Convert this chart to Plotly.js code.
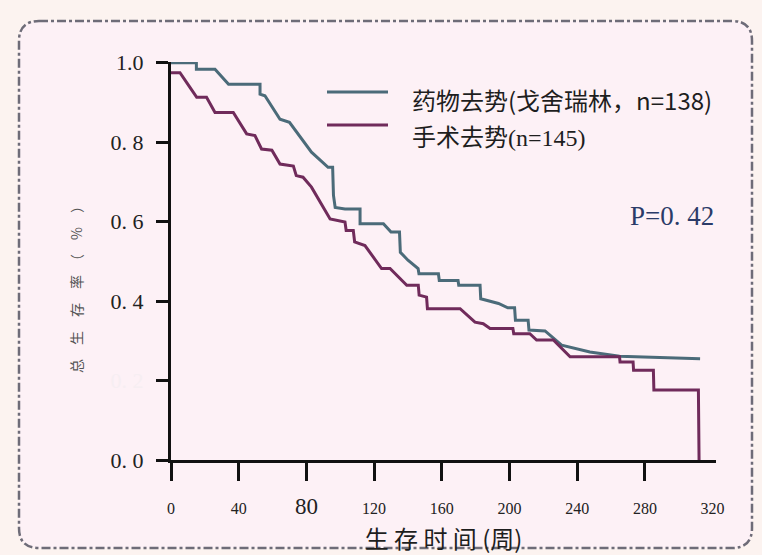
<!DOCTYPE html>
<html>
<head>
<meta charset="utf-8">
<script src="https://cdn.plot.ly/plotly-3.0.1.min.js"></script>
<style>
html,body{margin:0;padding:0;background:#fcf3f0;}
#chart{width:762px;height:555px;}
</style>
</head>
<body>
<div id="chart"></div>
<script>
// ---- data ----
const seriesNames = ['药物去势(戈舍瑞林，n=138)', '手术去势<span style="font-family:Liberation Serif">(n=145)</span>'];

const drugWeeks = [0, 15, 15, 26, 34, 52.6, 52.6, 55.5, 64.4, 70, 83, 92.8, 95.5, 96, 97, 102.8, 111.7, 111.7, 125.5, 130, 135, 135.5, 140, 146, 146.5, 158, 158.5, 169.6, 170, 182.6, 183, 193.5, 199, 203, 203.5, 211, 211.5, 221, 230.8, 247.5, 265, 312.6];
const drugSurv  = [1.0, 1.0, 0.984, 0.984, 0.946, 0.946, 0.921, 0.917, 0.858, 0.85, 0.775, 0.737, 0.737, 0.666, 0.636, 0.632, 0.632, 0.595, 0.595, 0.574, 0.574, 0.523, 0.503, 0.482, 0.469, 0.469, 0.452, 0.452, 0.44, 0.44, 0.406, 0.394, 0.383, 0.383, 0.352, 0.352, 0.327, 0.325, 0.289, 0.272, 0.261, 0.255];

const surgWeeks = [0, 5.3, 11.2, 15.2, 21, 26, 36.8, 44.7, 49.6, 53.5, 59.6, 64.4, 72.3, 74, 78, 83, 94, 102.8, 103.5, 107.7, 108.5, 114.6, 124.4, 129.4, 139.3, 146.1, 146.6, 151, 151.5, 170.8, 179.6, 184.5, 188.5, 202, 202.5, 212, 216, 225.9, 235.8, 265, 265.3, 273, 273.3, 285, 285.3, 311.6, 312];
const surgSurv  = [0.975, 0.975, 0.938, 0.913, 0.913, 0.875, 0.875, 0.821, 0.817, 0.783, 0.78, 0.745, 0.74, 0.716, 0.712, 0.687, 0.607, 0.599, 0.578, 0.578, 0.549, 0.54, 0.482, 0.482, 0.44, 0.44, 0.415, 0.41, 0.381, 0.381, 0.347, 0.343, 0.331, 0.331, 0.318, 0.318, 0.302, 0.302, 0.26, 0.26, 0.247, 0.247, 0.226, 0.226, 0.176, 0.176, 0];

const xTickVals = [0, 40, 80, 120, 160, 200, 240, 280, 320];
const xTickText = ['0', '40', '<span style="font-size:23px">80</span>', '120', '160', '200', '240', '280', '320'];
const xTickMarks = [0, 40, 80, 120, 160, 200, 240, 280];
const yTickVals = [0, 0.2, 0.4, 0.6, 0.8, 1.0];
const yTickText = ['0. 0', '<span style="color:#f6eef2">0. 2</span>', '0. 4', '0. 6', '0. 8', '1.0'];
const xTitle = '生 存 时 间 (周)';
const yTitle = '总\u3000生\u3000存\u3000率\u3000（\u3000%\u3000）';
const pValueText = 'P=0. 42';

const colors = ['#4b6b79', '#702b5b'];

// ---- layout geometry ----
const W = 762, H = 555;
const M = {l: 171, r: 46, t: 62, b: 95};
const PW = W - M.l - M.r, PH = H - M.t - M.b;
const px = x => (x - M.l) / PW;      // pixel -> paper x
const py = y => (M.t + PH - y) / PH; // pixel -> paper y

function roundRectPath(x0p, y0p, x1p, y1p, r) {
  const X0 = px(x0p), X1 = px(x1p), Y0 = py(y1p), Y1 = py(y0p);
  const rx = r / PW, ry = r / PH;
  return `M${X0+rx},${Y1} L${X1-rx},${Y1} Q${X1},${Y1} ${X1},${Y1-ry} L${X1},${Y0+ry} Q${X1},${Y0} ${X1-rx},${Y0} L${X0+rx},${Y0} Q${X0},${Y0} ${X0},${Y0+ry} L${X0},${Y1-ry} Q${X0},${Y1} ${X0+rx},${Y1} Z`;
}

const traces = [
  {x: drugWeeks, y: drugSurv, mode: 'lines', line: {color: colors[0], width: 3, shape: 'linear'}, name: seriesNames[0], showlegend: false, hoverinfo: 'skip'},
  {x: surgWeeks, y: surgSurv, mode: 'lines', line: {color: colors[1], width: 3, shape: 'linear'}, name: seriesNames[1], showlegend: false, hoverinfo: 'skip'}
];

const legendRows = [{lineY: 92, textY: 100}, {lineY: 125, textY: 135}];
const shapes = [
  {type: 'path', xref: 'paper', yref: 'paper', path: roundRectPath(19, 21, 752, 548, 20),
   line: {color: '#6e6c78', width: 2.5, dash: 'dashdot'}, fillcolor: '#fdf1f6', layer: 'below'}
];
const annotations = [];
legendRows.forEach((row, i) => {
  shapes.push({type: 'line', xref: 'paper', yref: 'paper', x0: px(327), x1: px(388), y0: py(row.lineY), y1: py(row.lineY),
    line: {color: colors[i], width: 3}});
  annotations.push({xref: 'paper', yref: 'paper', x: px(411), y: py(row.textY), xanchor: 'left', yanchor: 'middle',
    text: seriesNames[i], showarrow: false, borderpad: 0,
    font: {family: 'Noto Sans CJK SC', size: 24, color: '#1e1e1e'}});
});
annotations.push({xref: 'paper', yref: 'paper', x: px(716), y: py(216), xanchor: 'right', yanchor: 'middle',
  text: pValueText, showarrow: false, font: {family: 'Liberation Serif', size: 27, color: '#2b3b68'}});
// y-axis title (placed as rotated text to match its off-centre position)
annotations.push({xref: 'paper', yref: 'paper', x: px(76), y: py(286), xanchor: 'center', yanchor: 'middle',
  textangle: -90, text: yTitle, showarrow: false, font: {family: 'Noto Sans CJK SC', size: 14, color: '#555'}});

const layout = {
  width: W, height: H,
  margin: M,
  paper_bgcolor: '#fcf3f0',
  plot_bgcolor: 'rgba(0,0,0,0)',
  showlegend: false,
  xaxis: {
    range: [0, 322], showgrid: false, zeroline: false,
    showline: true, linecolor: '#111', linewidth: 3,
    ticks: '', tickvals: xTickVals, ticktext: xTickText, ticklabelstandoff: 32,
    minor: {tickmode: 'array', tickvals: xTickMarks, ticks: 'outside', ticklen: 18, tickwidth: 3, tickcolor: '#111', showgrid: false},
    tickfont: {family: 'Liberation Serif', size: 16, color: '#222'},
    title: {text: xTitle, standoff: 14, font: {family: 'Noto Sans CJK SC', size: 24, color: '#1e1e1e'}}
  },
  yaxis: {
    range: [0, 1.002], showgrid: false, zeroline: false,
    showline: true, linecolor: '#111', linewidth: 3,
    ticks: 'outside', ticklen: 12, tickwidth: 3, tickcolor: '#111',
    tickvals: yTickVals, ticktext: yTickText, ticklabelstandoff: 8,
    tickfont: {family: 'Liberation Serif', size: 22, color: '#222'}
  },
  shapes: shapes,
  annotations: annotations
};

Plotly.newPlot('chart', traces, layout, {staticPlot: true, displayModeBar: false});
</script>
</body>
</html>
